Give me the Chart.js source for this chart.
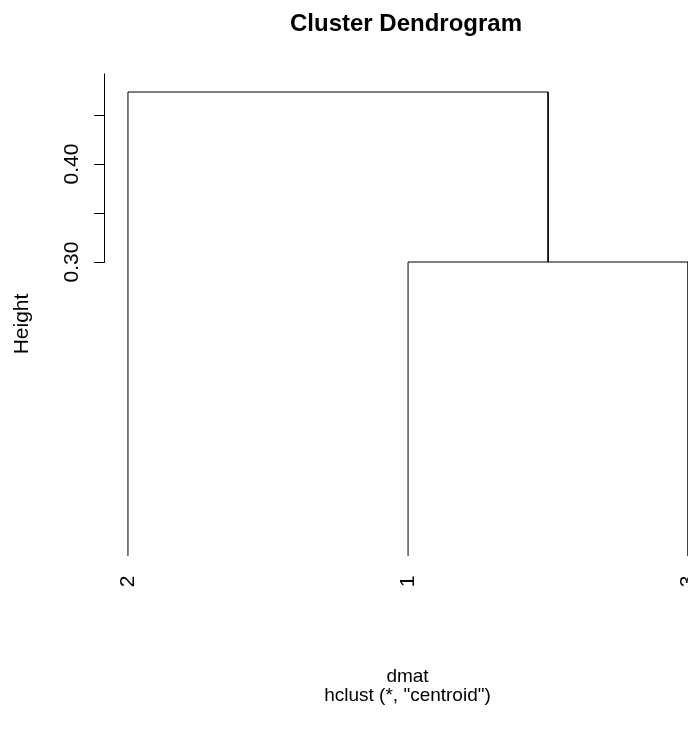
<!DOCTYPE html>
<html>
<head>
<meta charset="utf-8">
<script src="https://cdn.jsdelivr.net/npm/chart.js@4"></script>
<style>
  html, body { margin: 0; padding: 0; background: #fff; overflow: hidden; }
  #wrap { width: 688px; height: 729px; overflow: hidden; }
</style>
</head>
<body>
<div id="wrap"><canvas id="dendro" width="812" height="729"></canvas></div>
<script>
// leaves in plotting order (left to right) and their labels
var leafOrder = [2, 1, 3];
var leafLabels = ["1", "2", "3"];
// hclust merge table: negative = leaf, positive = earlier merge
var mergeLeft = [-1, -2];
var mergeRight = [-3, 1];
var mergeHeight = [0.30, 0.4735];
// y axis ticks, only some of them labelled
var yTicks = [0.30, 0.35, 0.40, 0.45];
var yLabelled = [0.30, 0.40];

// build the elbow lines of the tree from the merge table
var clusters = [];
var segments = [];

function nodePos(id) {
    if (id < 0) return { x: leafOrder.indexOf(-id) + 1, h: 0 };
    return clusters[id - 1];
}

for (var i = 0; i < mergeHeight.length; i++) {
    var a = nodePos(mergeLeft[i]);
    var b = nodePos(mergeRight[i]);
    var h = mergeHeight[i];
    segments.push([
        { x: a.x, y: a.h },
        { x: a.x, y: h },
        { x: b.x, y: h },
        { x: b.x, y: b.h }
    ]);
    clusters.push({ x: (a.x + b.x) / 2, h: h });
}

Chart.defaults.font.family = "'Liberation Sans', Arial, sans-serif";
Chart.defaults.color = "#000";

// axis line only from the first tick up to the top of the plot
var axisLine = {
    id: 'axisLine',
    afterDraw: function (chart) {
        var s = chart.scales.y;
        var ctx = chart.ctx;
        var x = Math.round(s.right) - 0.5;
        ctx.save();
        ctx.strokeStyle = "#000";
        ctx.lineWidth = 1;
        ctx.beginPath();
        ctx.moveTo(x, Math.round(s.getPixelForValue(yTicks[0])) + 0.5);
        ctx.lineTo(x, chart.chartArea.top);
        ctx.stroke();
        ctx.restore();
    }
};

var dendro = new Chart(document.getElementById("dendro"), {
    type: 'scatter',
    plugins: [axisLine],
    data: {
        datasets: segments.map(function (pts) {
            return {
                data: pts,
                showLine: true,
                borderColor: "#000",
                borderWidth: 1,
                pointRadius: 0,
                tension: 0,
                fill: false
            };
        })
    },
    options: {
        responsive: false,
        animation: false,
        devicePixelRatio: 1,
        layout: { padding: 0 },
        plugins: {
            legend: { display: false },
            tooltip: { enabled: false },
            title: {
                display: true,
                text: "Cluster Dendrogram",
                color: "#000",
                font: { size: 24, weight: 'bold' },
                padding: { top: 10, bottom: 34.7 }
            }
        },
        scales: {
            x: {
                type: 'linear',
                position: 'bottom',
                min: 0.918,
                max: 3.078,
                afterBuildTicks: function (s) {
                    s.ticks = leafOrder.map(function (_, i) { return { value: i + 1 }; });
                },
                afterFit: function (s) { s.height = 154.5; },
                grid: { display: false, drawTicks: false },
                border: { display: false },
                ticks: {
                    autoSkip: false,
                    minRotation: 90,
                    maxRotation: 90,
                    padding: 1,
                    font: { size: 21 },
                    callback: function (v) {
                        return leafLabels[leafOrder[Math.round(v) - 1] - 1];
                    }
                },
                title: {
                    display: true,
                    text: ["dmat", 'hclust (*, "centroid")'],
                    font: { size: 19, lineHeight: 1 },
                    padding: { top: 0, bottom: 24 }
                }
            },
            y: {
                type: 'linear',
                position: 'left',
                min: -0.0189,
                max: 0.4924,
                afterBuildTicks: function (s) {
                    s.ticks = yTicks.map(function (v) { return { value: v }; });
                },
                afterFit: function (s) { s.width = 105; },
                grid: { display: true, drawOnChartArea: false, drawTicks: true, tickLength: 11, color: "#000", lineWidth: 1 },
                border: { display: false },
                ticks: {
                    autoSkip: false,
                    minRotation: 90,
                    maxRotation: 90,
                    crossAlign: 'center',
                    padding: 1.5,
                    font: { size: 21 },
                    callback: function (v) {
                        for (var k = 0; k < yLabelled.length; k++) {
                            if (Math.abs(yLabelled[k] - v) < 1e-9) return v.toFixed(2);
                        }
                        return "";
                    }
                },
                title: {
                    display: true,
                    text: "Height",
                    font: { size: 21 },
                    padding: { top: 10, bottom: 0 }
                }
            },
            // empty right margin so the plot is centred like the original
            y2: {
                type: 'linear',
                position: 'right',
                afterFit: function (s) { s.width = 102; },
                grid: { display: false, drawTicks: false },
                border: { display: false },
                ticks: { display: false }
            }
        }
    }
});
</script>
</body>
</html>
